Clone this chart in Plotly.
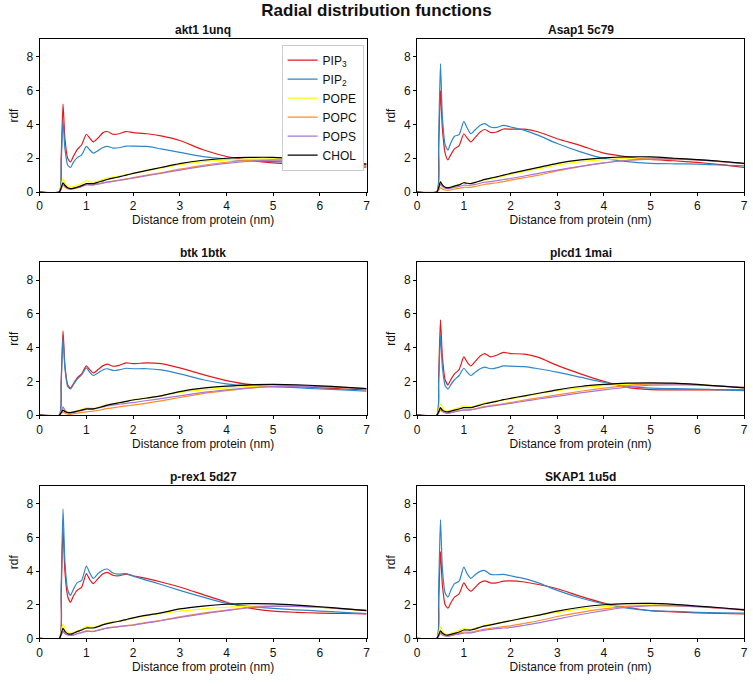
import plotly.graph_objects as go

# ---- shared distance grid (nm) ----
DIST = [0, 0.42, 0.46, 0.50, 0.54, 0.60, 0.66, 0.72, 0.80, 0.90, 1.00, 1.07, 1.15, 1.25, 1.35,
        1.45, 1.57, 1.70, 1.85, 2.0, 2.3, 2.6, 3.0, 3.5, 4.0, 4.5, 5.0, 5.5, 6.0, 6.5, 7.0]

LIPIDS = ["PIP3", "PIP2", "POPE", "POPC", "POPS", "CHOL"]
LEGEND_NAMES = ["PIP<sub>3</sub>", "PIP<sub>2</sub>", "POPE", "POPC", "POPS", "CHOL"]
PANEL_TITLES = ["akt1 1unq", "Asap1 5c79", "btk 1btk", "plcd1 1mai", "p-rex1 5d27", "SKAP1 1u5d"]

# ---- akt1 1unq ----
akt1_pip3 = [0, 0, 2.0, 5.2, 3.2, 2.0, 1.78, 2.1, 2.5, 2.8, 3.42, 3.2, 2.97, 3.2, 3.5, 3.58, 3.42, 3.45, 3.58, 3.52, 3.45, 3.32, 3.05, 2.5, 2.1, 1.88, 1.72, 1.65, 1.6, 1.55, 1.47]
akt1_pip2 = [0, 0, 1.6, 4.2, 2.6, 1.6, 1.45, 1.75, 2.02, 2.2, 2.7, 2.5, 2.3, 2.45, 2.62, 2.7, 2.6, 2.62, 2.72, 2.72, 2.7, 2.55, 2.35, 2.1, 1.95, 1.85, 1.8, 1.77, 1.72, 1.65, 1.55]
akt1_pope = [0, 0, 0.35, 0.8, 0.55, 0.32, 0.28, 0.32, 0.4, 0.5, 0.68, 0.6, 0.58, 0.65, 0.75, 0.84, 0.88, 0.95, 1.02, 1.1, 1.26, 1.42, 1.62, 1.8, 1.9, 1.95, 1.96, 1.92, 1.85, 1.75, 1.65]
akt1_popc = [0, 0, 0.15, 0.4, 0.3, 0.18, 0.15, 0.18, 0.24, 0.32, 0.45, 0.42, 0.42, 0.48, 0.54, 0.6, 0.65, 0.7, 0.78, 0.85, 1.0, 1.14, 1.35, 1.58, 1.76, 1.87, 1.9, 1.88, 1.8, 1.68, 1.55]
akt1_pops = [0, 0, 0.2, 0.5, 0.35, 0.22, 0.2, 0.22, 0.27, 0.34, 0.42, 0.42, 0.42, 0.47, 0.53, 0.58, 0.63, 0.68, 0.75, 0.82, 0.97, 1.1, 1.3, 1.52, 1.7, 1.82, 1.88, 1.88, 1.82, 1.74, 1.65]
akt1_chol = [0, 0, 0.25, 0.55, 0.4, 0.25, 0.2, 0.22, 0.28, 0.38, 0.5, 0.5, 0.5, 0.58, 0.66, 0.74, 0.82, 0.9, 1.0, 1.1, 1.28, 1.45, 1.68, 1.88, 2.0, 2.05, 2.05, 1.98, 1.88, 1.77, 1.65]

# ---- Asap1 5c79 ----
asap1_pip3 = [0, 0, 2.4, 6.0, 3.8, 2.3, 1.9, 2.2, 2.55, 2.75, 3.45, 3.2, 2.97, 3.25, 3.55, 3.7, 3.52, 3.55, 3.73, 3.72, 3.72, 3.55, 3.15, 2.75, 2.3, 2.08, 1.93, 1.85, 1.75, 1.62, 1.45]
asap1_pip2 = [0, 0, 3.0, 7.6, 4.5, 2.8, 2.48, 2.9, 3.3, 3.4, 4.18, 3.8, 3.45, 3.7, 3.95, 4.05, 3.85, 3.82, 3.95, 3.85, 3.65, 3.35, 2.87, 2.38, 1.99, 1.8, 1.7, 1.67, 1.65, 1.6, 1.55]
asap1_pope = [0, 0, 0.3, 0.65, 0.45, 0.3, 0.25, 0.3, 0.38, 0.45, 0.55, 0.52, 0.5, 0.56, 0.64, 0.72, 0.78, 0.85, 0.95, 1.05, 1.22, 1.38, 1.6, 1.8, 1.92, 2.0, 2.02, 1.98, 1.9, 1.8, 1.68]
asap1_popc = [0, 0, 0.1, 0.25, 0.18, 0.12, 0.1, 0.12, 0.18, 0.22, 0.28, 0.28, 0.28, 0.33, 0.4, 0.46, 0.5, 0.55, 0.62, 0.7, 0.85, 1.0, 1.25, 1.52, 1.72, 1.88, 1.95, 1.95, 1.9, 1.8, 1.7]
asap1_pops = [0, 0, 0.2, 0.45, 0.32, 0.22, 0.2, 0.22, 0.28, 0.33, 0.4, 0.4, 0.4, 0.45, 0.52, 0.58, 0.62, 0.67, 0.74, 0.8, 0.95, 1.1, 1.3, 1.52, 1.72, 1.88, 1.95, 1.95, 1.9, 1.8, 1.68]
asap1_chol = [0, 0, 0.25, 0.6, 0.42, 0.28, 0.25, 0.28, 0.35, 0.42, 0.55, 0.52, 0.5, 0.57, 0.66, 0.75, 0.82, 0.9, 1.0, 1.1, 1.28, 1.46, 1.7, 1.9, 2.02, 2.08, 2.08, 2.0, 1.92, 1.82, 1.7]

# ---- btk 1btk ----
btk_pip3 = [0, 0, 2.0, 5.0, 3.0, 1.8, 1.6, 1.85, 2.2, 2.45, 2.92, 2.7, 2.5, 2.7, 2.92, 3.02, 2.9, 2.95, 3.1, 3.05, 3.1, 3.05, 2.8, 2.4, 2.05, 1.82, 1.75, 1.7, 1.62, 1.56, 1.5]
btk_pip2 = [0, 0, 1.8, 4.6, 2.8, 1.7, 1.55, 1.8, 2.12, 2.4, 2.8, 2.55, 2.35, 2.5, 2.68, 2.75, 2.65, 2.68, 2.78, 2.75, 2.75, 2.68, 2.45, 2.1, 1.85, 1.72, 1.68, 1.63, 1.55, 1.5, 1.42]
btk_pope = [0, 0, 0.2, 0.45, 0.3, 0.2, 0.18, 0.2, 0.28, 0.35, 0.45, 0.42, 0.42, 0.48, 0.55, 0.62, 0.68, 0.75, 0.82, 0.9, 1.03, 1.15, 1.35, 1.5, 1.62, 1.7, 1.75, 1.74, 1.7, 1.63, 1.55]
btk_popc = [0, 0, 0.08, 0.2, 0.12, 0.06, 0.05, 0.08, 0.12, 0.16, 0.2, 0.22, 0.24, 0.28, 0.34, 0.4, 0.44, 0.5, 0.55, 0.6, 0.72, 0.85, 1.05, 1.28, 1.45, 1.6, 1.72, 1.73, 1.7, 1.63, 1.55]
btk_pops = [0, 0, 0.2, 0.5, 0.3, 0.15, 0.12, 0.15, 0.22, 0.28, 0.35, 0.35, 0.36, 0.42, 0.48, 0.55, 0.6, 0.65, 0.7, 0.75, 0.87, 0.98, 1.15, 1.35, 1.5, 1.62, 1.7, 1.7, 1.68, 1.63, 1.57]
btk_chol = [0, 0, 0.15, 0.3, 0.22, 0.16, 0.15, 0.18, 0.24, 0.3, 0.38, 0.38, 0.38, 0.44, 0.52, 0.6, 0.67, 0.74, 0.82, 0.9, 1.02, 1.15, 1.4, 1.6, 1.72, 1.8, 1.82, 1.8, 1.74, 1.66, 1.57]

# ---- plcd1 1mai ----
plcd1_pip3 = [0, 0, 2.2, 5.65, 3.5, 2.1, 1.8, 2.1, 2.45, 2.7, 3.45, 3.15, 2.92, 3.2, 3.5, 3.65, 3.45, 3.55, 3.72, 3.65, 3.62, 3.42, 2.95, 2.45, 2.0, 1.65, 1.52, 1.5, 1.5, 1.5, 1.5]
plcd1_pip2 = [0, 0, 1.8, 4.75, 2.9, 1.75, 1.55, 1.8, 2.1, 2.35, 2.78, 2.55, 2.35, 2.55, 2.75, 2.85, 2.75, 2.8, 2.92, 2.9, 2.88, 2.75, 2.55, 2.25, 1.95, 1.72, 1.6, 1.57, 1.55, 1.5, 1.45]
plcd1_pope = [0, 0, 0.3, 0.7, 0.45, 0.28, 0.25, 0.3, 0.38, 0.45, 0.55, 0.52, 0.5, 0.56, 0.64, 0.72, 0.78, 0.85, 0.9, 0.95, 1.12, 1.28, 1.45, 1.62, 1.75, 1.82, 1.85, 1.84, 1.8, 1.72, 1.62]
plcd1_popc = [0, 0, 0.12, 0.3, 0.2, 0.14, 0.12, 0.15, 0.22, 0.27, 0.32, 0.32, 0.33, 0.38, 0.45, 0.52, 0.57, 0.62, 0.68, 0.75, 0.9, 1.03, 1.2, 1.42, 1.6, 1.75, 1.85, 1.85, 1.8, 1.73, 1.65]
plcd1_pops = [0, 0, 0.15, 0.4, 0.25, 0.15, 0.12, 0.15, 0.2, 0.25, 0.3, 0.3, 0.32, 0.37, 0.43, 0.48, 0.53, 0.58, 0.64, 0.7, 0.83, 0.96, 1.12, 1.32, 1.5, 1.66, 1.78, 1.8, 1.78, 1.72, 1.65]
plcd1_chol = [0, 0, 0.2, 0.45, 0.3, 0.22, 0.2, 0.24, 0.3, 0.37, 0.45, 0.45, 0.45, 0.52, 0.6, 0.68, 0.75, 0.82, 0.92, 1.0, 1.15, 1.3, 1.5, 1.7, 1.82, 1.9, 1.92, 1.9, 1.82, 1.72, 1.62]

# ---- p-rex1 5d27 ----
prex1_pip3 = [0, 0, 2.5, 6.55, 4.0, 2.5, 2.15, 2.5, 2.85, 3.05, 3.85, 3.5, 3.25, 3.55, 3.82, 3.92, 3.75, 3.72, 3.82, 3.72, 3.55, 3.35, 3.05, 2.6, 2.15, 1.8, 1.62, 1.55, 1.5, 1.48, 1.45]
prex1_pip2 = [0, 0, 3.0, 7.7, 4.6, 2.9, 2.55, 2.9, 3.3, 3.45, 4.3, 3.9, 3.56, 3.85, 4.05, 4.12, 3.88, 3.82, 3.85, 3.7, 3.45, 3.2, 2.85, 2.45, 2.08, 1.9, 1.78, 1.7, 1.62, 1.55, 1.47]
prex1_pope = [0, 0, 0.4, 0.85, 0.55, 0.35, 0.3, 0.35, 0.45, 0.55, 0.72, 0.68, 0.66, 0.74, 0.84, 0.92, 0.98, 1.03, 1.1, 1.2, 1.35, 1.48, 1.62, 1.76, 1.85, 1.92, 1.95, 1.92, 1.85, 1.75, 1.65]
prex1_popc = [0, 0, 0.2, 0.45, 0.3, 0.2, 0.18, 0.2, 0.28, 0.36, 0.45, 0.43, 0.43, 0.5, 0.57, 0.63, 0.67, 0.72, 0.76, 0.8, 0.95, 1.08, 1.28, 1.5, 1.68, 1.85, 1.92, 1.9, 1.85, 1.75, 1.65]
prex1_pops = [0, 0, 0.18, 0.4, 0.28, 0.2, 0.18, 0.2, 0.27, 0.34, 0.42, 0.41, 0.41, 0.48, 0.55, 0.61, 0.65, 0.7, 0.74, 0.78, 0.92, 1.05, 1.25, 1.46, 1.65, 1.82, 1.9, 1.9, 1.85, 1.76, 1.68]
prex1_chol = [0, 0, 0.28, 0.6, 0.42, 0.28, 0.25, 0.3, 0.4, 0.5, 0.62, 0.62, 0.62, 0.7, 0.8, 0.88, 0.95, 1.02, 1.12, 1.22, 1.38, 1.52, 1.75, 1.92, 2.03, 2.07, 2.05, 1.98, 1.88, 1.77, 1.65]

# ---- SKAP1 1u5d ----
skap1_pip3 = [0, 0, 2.0, 5.15, 3.2, 2.0, 1.8, 2.1, 2.45, 2.65, 3.3, 3.0, 2.8, 3.05, 3.32, 3.42, 3.3, 3.3, 3.4, 3.42, 3.35, 3.2, 2.95, 2.5, 2.1, 1.85, 1.65, 1.58, 1.52, 1.48, 1.45]
skap1_pip2 = [0, 0, 2.8, 7.05, 4.2, 2.7, 2.45, 2.85, 3.25, 3.4, 4.24, 3.85, 3.56, 3.8, 3.98, 4.03, 3.8, 3.78, 3.8, 3.72, 3.55, 3.3, 2.85, 2.4, 2.05, 1.8, 1.65, 1.6, 1.55, 1.52, 1.5]
skap1_pope = [0, 0, 0.3, 0.7, 0.45, 0.28, 0.25, 0.3, 0.38, 0.47, 0.58, 0.55, 0.54, 0.61, 0.7, 0.78, 0.84, 0.9, 0.97, 1.05, 1.22, 1.37, 1.55, 1.75, 1.88, 1.97, 2.0, 1.97, 1.9, 1.8, 1.7]
skap1_popc = [0, 0, 0.15, 0.35, 0.25, 0.17, 0.15, 0.18, 0.24, 0.3, 0.38, 0.37, 0.37, 0.43, 0.5, 0.55, 0.6, 0.65, 0.7, 0.75, 0.9, 1.05, 1.3, 1.55, 1.75, 1.9, 1.95, 1.93, 1.88, 1.78, 1.68]
skap1_pops = [0, 0, 0.12, 0.3, 0.2, 0.15, 0.13, 0.16, 0.21, 0.26, 0.32, 0.32, 0.33, 0.38, 0.44, 0.49, 0.54, 0.58, 0.62, 0.65, 0.78, 0.92, 1.15, 1.42, 1.65, 1.85, 1.95, 1.95, 1.88, 1.8, 1.72]
skap1_chol = [0, 0, 0.2, 0.45, 0.32, 0.22, 0.2, 0.24, 0.3, 0.38, 0.5, 0.5, 0.5, 0.57, 0.66, 0.74, 0.8, 0.88, 0.97, 1.05, 1.22, 1.38, 1.62, 1.85, 2.0, 2.07, 2.08, 2.02, 1.92, 1.82, 1.7]

X_TICKS = [0, 1, 2, 3, 4, 5, 6, 7]
Y_TICKS = [0, 2, 4, 6, 8]

PANELS = [
    [akt1_pip3, akt1_pip2, akt1_pope, akt1_popc, akt1_pops, akt1_chol],
    [asap1_pip3, asap1_pip2, asap1_pope, asap1_popc, asap1_pops, asap1_chol],
    [btk_pip3, btk_pip2, btk_pope, btk_popc, btk_pops, btk_chol],
    [plcd1_pip3, plcd1_pip2, plcd1_pope, plcd1_popc, plcd1_pops, plcd1_chol],
    [prex1_pip3, prex1_pip2, prex1_pope, prex1_popc, prex1_pops, prex1_chol],
    [skap1_pip3, skap1_pip2, skap1_pope, skap1_popc, skap1_pops, skap1_chol],
]

COLORS = ["#e31a1c", "#2f86c8", "#ffff00", "#ff8c26", "#a874d9", "#000000"]

W, H = 753, 686
FONT = "Liberation Sans, Arial, Helvetica, sans-serif"
TXT = "#111111"
FS = 12

# pixel layout of axes boxes
COL_X = [(37, 367), (418, 748)]
ROW_Y = [(39.5, 194), (265, 419.5), (491, 645)]

fig = go.Figure()
layout = {}
annotations = []
for i, series in enumerate(PANELS):
    r, c = divmod(i, 2)
    ax = "" if i == 0 else str(i + 1)
    x0, x1 = COL_X[c]
    yt, yb = ROW_Y[r]
    for j, vals in enumerate(series):
        fig.add_trace(go.Scatter(
            x=DIST, y=vals, mode="lines", name=LEGEND_NAMES[j],
            line=dict(color=COLORS[j], width=1.2, shape="spline", smoothing=0.6),
            xaxis="x" + ax, yaxis="y" + ax,
            showlegend=(i == 0), legendgroup=LIPIDS[j],
        ))
    common = dict(showline=True, linecolor="black", linewidth=1, mirror=True,
                  ticks="outside", ticklen=3, tickwidth=1, tickcolor="black",
                  showgrid=False, zeroline=False,
                  tickfont=dict(family=FONT, size=FS, color=TXT))
    layout["xaxis" + ax] = dict(
        common, domain=[x0 / W, x1 / W], anchor="y" + ax, range=[0, 7],
        tickvals=X_TICKS,
        title=dict(text="Distance from protein (nm)", font=dict(family=FONT, size=FS, color=TXT), standoff=0),
    )
    layout["yaxis" + ax] = dict(
        common, domain=[1 - yb / H, 1 - yt / H], anchor="x" + ax, range=[0, 9.05],
        tickvals=Y_TICKS,
        title=dict(text="rdf", font=dict(family=FONT, size=FS, color=TXT), standoff=5),
    )
    annotations.append(dict(
        text="<b>" + PANEL_TITLES[i] + "</b>", x=(x0 + x1) / 2 / W, y=1 - (yt - 9) / H,
        xref="paper", yref="paper", xanchor="center", yanchor="middle", showarrow=False,
        font=dict(family=FONT, size=FS, color=TXT),
    ))

fig.update_layout(
    **layout,
    annotations=annotations,
    width=W, height=H, autosize=False,
    margin=dict(l=0, r=0, t=0, b=0),
    paper_bgcolor="white", plot_bgcolor="white",
    title=dict(text="<b>Radial distribution functions</b>", x=0.5, xanchor="center",
               y=1 - 10 / H, yanchor="middle", font=dict(family=FONT, size=17, color=TXT)),
    legend=dict(x=364 / W, y=1 - 45 / H, xanchor="right", yanchor="top",
                bgcolor="white", bordercolor="#cccccc", borderwidth=1,
                font=dict(family=FONT, size=FS, color=TXT), tracegroupgap=0),
    font=dict(family=FONT, size=FS, color=TXT),
)

fig.write_html("out.html", config={"displayModeBar": False},
               post_script="document.body.style.margin='0';")
